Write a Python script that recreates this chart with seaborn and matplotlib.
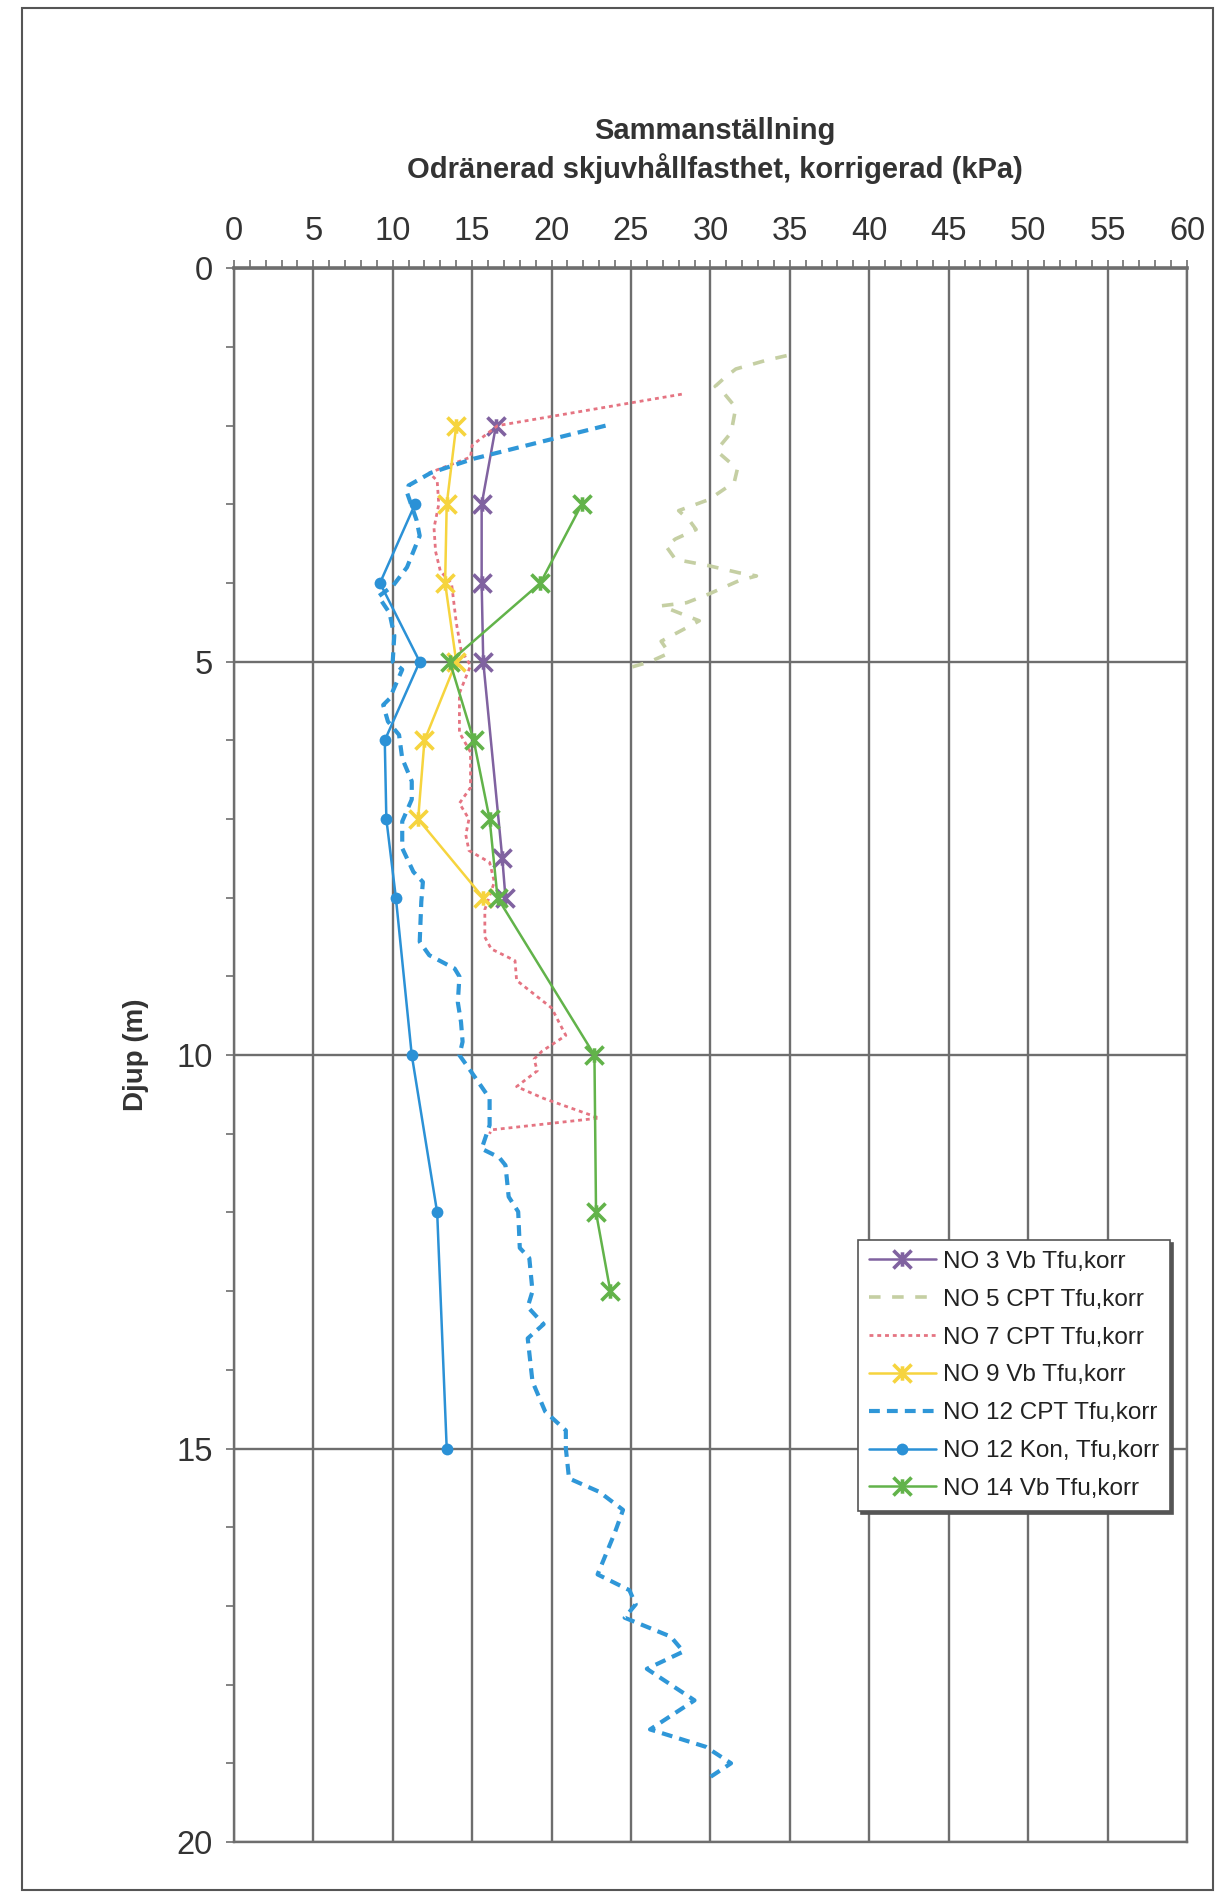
import numpy as np
import pandas as pd
import matplotlib
matplotlib.use("Agg")
import matplotlib.pyplot as plt
from matplotlib.path import Path
from matplotlib.patches import Rectangle
from matplotlib.ticker import MultipleLocator
import seaborn as sns

# --- Vingborrning (Vb) och konförsök, djup (m) och korrigerad skjuvhållfasthet (kPa)
no3_depth = [2, 3, 4, 5, 7.5, 8]
no3_tfu = [16.5, 15.6, 15.6, 15.7, 16.9, 17.1]

no9_depth = [2, 3, 4, 5, 6, 7, 8]
no9_tfu = [14.0, 13.4, 13.3, 14.0, 12.0, 11.6, 15.7]

no14_depth = [3, 4, 5, 6, 7, 8, 10, 12, 13]
no14_tfu = [21.9, 19.3, 13.6, 15.1, 16.1, 16.6, 22.7, 22.8, 23.7]

no12kon_depth = [3, 4, 5, 6, 7, 8, 10, 12, 15]
no12kon_tfu = [11.4, 9.2, 11.7, 9.5, 9.6, 10.2, 11.2, 12.8, 13.4]

# --- CPT-sonderingar
no5_depth = [1.11, 1.17, 1.28, 1.39, 1.50, 1.60, 1.77, 2.09, 2.26, 2.34, 2.55,
             2.72, 2.94, 3.08, 3.21, 3.32, 3.44, 3.53, 3.70, 3.78, 3.87, 3.91,
             3.97, 4.14, 4.25, 4.29, 4.48, 4.59, 4.74, 4.89, 5.00, 5.10]
no5_tfu = [34.8, 33.5, 31.6, 30.9, 30.3, 30.9, 31.6, 31.3, 30.6, 30.5, 31.7,
           31.5, 29.9, 28.0, 28.7, 29.1, 27.8, 27.2, 27.8, 29.9, 31.8, 32.9,
           31.8, 29.9, 28.5, 26.9, 29.3, 28.3, 26.9, 27.4, 26.2, 24.5]

no7_depth = [1.6, 2.0, 2.25, 2.4, 2.6, 2.7, 3.0, 3.3, 3.6, 3.85, 4.0, 4.5,
             4.85, 5.05, 5.2, 5.4, 5.9, 6.15, 6.6, 6.8, 7.0, 7.2, 7.4, 7.55,
             7.8, 8.15, 8.5, 8.65, 8.8, 9.05, 9.4, 9.75, 9.95, 10.05, 10.2,
             10.4, 10.55, 10.8, 10.95, 11.0]
no7_tfu = [28.2, 16.6, 15.0, 14.9, 12.3, 12.8, 12.9, 12.6, 12.7, 13.0, 13.7,
           14.0, 14.3, 14.9, 14.6, 14.2, 14.2, 14.9, 14.9, 14.2, 14.8, 14.6,
           14.8, 16.1, 16.4, 15.8, 15.8, 16.2, 17.7, 17.8, 20.0, 20.9, 19.4,
           18.9, 19.1, 17.8, 19.5, 23.0, 16.2, 16.1]

no12cpt_depth = [2.0, 2.42, 2.6, 2.76, 2.85, 3.2, 3.4, 3.8, 4.04, 4.17, 4.38,
                 4.67, 5.0, 5.1, 5.47, 5.55, 5.76, 5.93, 6.23, 6.52, 6.75,
                 7.03, 7.37, 7.67, 7.8, 8.05, 8.56, 8.73, 8.9, 9.0, 9.33,
                 9.58, 9.83, 10.0, 10.17, 10.55, 10.89, 11.19, 11.3, 11.4,
                 11.8, 11.99, 12.45, 12.58, 13.0, 13.2, 13.42, 13.6, 14.15,
                 14.53, 14.77, 15.0, 15.38, 15.55, 15.78, 16.06, 16.6, 16.8,
                 16.98, 17.15, 17.39, 17.58, 17.8, 18.2, 18.57, 18.79, 19.0,
                 19.2]
no12cpt_tfu = [23.4, 15.1, 12.4, 11.0, 10.9, 11.5, 11.7, 10.9, 10.0, 9.1, 9.8,
               10.1, 10.0, 10.6, 9.8, 9.4, 9.7, 10.4, 10.6, 11.2, 11.2,
               10.6, 10.6, 11.3, 11.9, 11.8, 11.7, 12.3, 13.9, 14.2, 14.1,
               14.3, 14.4, 14.2, 14.8, 16.1, 16.1, 15.6, 16.7, 17.1,
               17.3, 17.9, 18.0, 18.6, 18.8, 18.5, 19.5, 18.5, 18.8,
               19.6, 20.9, 20.9, 21.1, 23.0, 24.5, 24.0, 22.9, 24.9,
               25.3, 24.6, 27.5, 28.3, 26.0, 29.0, 26.2, 29.7, 31.3,
               29.8]

x_ticks = list(range(0, 61, 5))
y_ticks = list(range(0, 21, 5))

title_lines = ["Sammanställning", "Odränerad skjuvhållfasthet, korrigerad (kPa)"]
y_label = "Djup (m)"

sns.set_theme(style="white")
plt.rcParams["font.family"] = ["Liberation Sans", "DejaVu Sans"]

text_col = "#333333"
grid_col = "#6e6e6e"

fig = plt.figure(figsize=(12.18, 18.96), dpi=100)
ax = fig.add_axes([0.192, 0.0285, 0.7825, 0.830])

# X marker with a vertical bar through it
star = Path([(-1, -1), (1, 1), (-1, 1), (1, -1), (0, -0.8), (0, 0.8)],
            [Path.MOVETO, Path.LINETO, Path.MOVETO, Path.LINETO,
             Path.MOVETO, Path.LINETO])

series = [
    dict(name="NO 3 Vb Tfu,korr", d=no3_depth, v=no3_tfu, color="#8062a0",
         lw=1.8, ls="-", marker=star, ms=13, mew=2.6),
    dict(name="NO 5 CPT Tfu,korr", d=no5_depth, v=no5_tfu, color="#c5cfa3",
         lw=2.6, ls=(0, (3.2, 3.2)), marker=None),
    dict(name="NO 7 CPT Tfu,korr", d=no7_depth, v=no7_tfu, color="#e57482",
         lw=2.0, ls=(0, (1.4, 1.4)), marker=None),
    dict(name="NO 9 Vb Tfu,korr", d=no9_depth, v=no9_tfu, color="#f6d43e",
         lw=1.8, ls="-", marker=star, ms=13, mew=2.6),
    dict(name="NO 12 CPT Tfu,korr", d=no12cpt_depth, v=no12cpt_tfu,
         color="#2f97d8", lw=3.0, ls=(0, (2.6, 1.7)), marker=None),
    dict(name="NO 12 Kon, Tfu,korr", d=no12kon_depth, v=no12kon_tfu,
         color="#2b91d6", lw=1.8, ls="-", marker="o", ms=8.5, mew=0),
    dict(name="NO 14 Vb Tfu,korr", d=no14_depth, v=no14_tfu, color="#62b34a",
         lw=1.8, ls="-", marker=star, ms=13, mew=2.6),
]

for s in series:
    df = pd.DataFrame({"tfu": s["v"], "djup": s["d"]})
    kws = dict(color=s["color"], linewidth=s["lw"], linestyle=s["ls"],
               label=s["name"])
    if s["marker"] is not None:
        kws.update(marker=s["marker"], markersize=s["ms"],
                   markeredgewidth=s["mew"], markeredgecolor=s["color"],
                   markerfacecolor=s["color"])
    sns.lineplot(data=df, x="tfu", y="djup", sort=False, estimator=None,
                 ax=ax, zorder=3, **kws)

ax.set_xlim(0, 60)
ax.set_ylim(20, 0)
ax.xaxis.tick_top()
ax.xaxis.set_label_position("top")
ax.set_xticks(x_ticks)
ax.set_yticks(y_ticks)
ax.xaxis.set_minor_locator(MultipleLocator(1))
ax.yaxis.set_minor_locator(MultipleLocator(1))
ax.grid(True, which="major", color=grid_col, linewidth=1.7)
ax.set_axisbelow(True)

ax.tick_params(axis="x", which="both", top=True, bottom=False, direction="out",
               length=6, width=1.2, color=grid_col, labelsize=23.5,
               labelcolor=text_col, pad=9)
ax.tick_params(axis="y", which="both", left=True, direction="out",
               length=6, width=1.2, color=grid_col, labelsize=23.5,
               labelcolor=text_col, pad=9)

for side, sp in ax.spines.items():
    sp.set_color(grid_col)
    sp.set_linewidth(1.7)
ax.spines["top"].set_linewidth(2.6)

ax.set_xlabel("")
ax.set_ylabel(y_label, fontsize=20, fontweight="bold", color=text_col,
              labelpad=20)

fig.text(0.587, 0.931, title_lines[0], ha="center", va="center",
         fontsize=21, fontweight="bold", color=text_col)
fig.text(0.587, 0.911, title_lines[1], ha="center", va="center",
         fontsize=21, fontweight="bold", color=text_col)

leg = ax.legend(loc="upper left", bbox_to_anchor=(0.655, 0.3825),
                borderaxespad=0, fontsize=17.5, frameon=True, fancybox=False,
                edgecolor="#555555", framealpha=1, handlelength=2.75,
                handletextpad=0.3, labelspacing=0.65, borderpad=0.45,
                shadow={"color": "#555555", "alpha": 1.0})
leg.get_frame().set_linewidth(1.2)
for t in leg.get_texts():
    t.set_color("#222222")

# outer border of the chart area
fig.patches.append(Rectangle((0.018, 0.003), 0.978, 0.993,
                             transform=fig.transFigure, fill=False,
                             edgecolor="#555555", linewidth=1.5))

fig.savefig("out.png", dpi=100)
